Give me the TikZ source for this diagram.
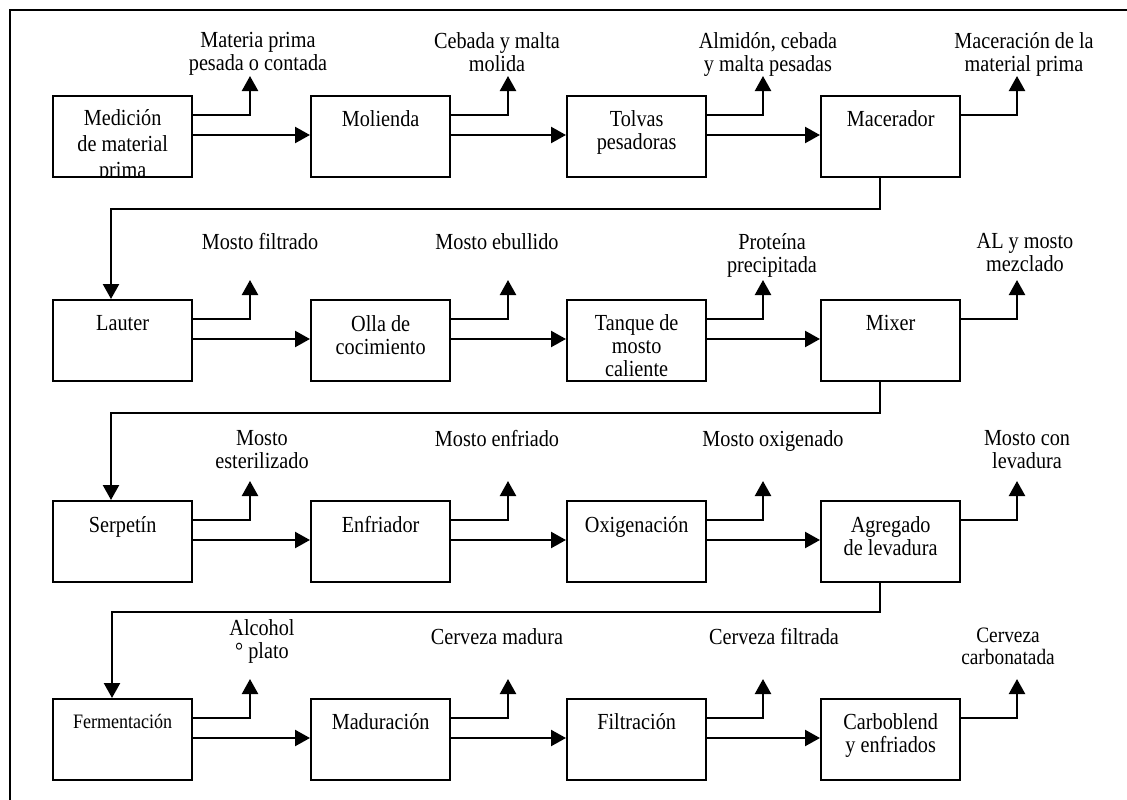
\documentclass[tikz,border=0pt]{standalone}
\usepackage{fontspec}
\setmainfont{Liberation Serif}[FakeStretch=0.88]
\usetikzlibrary{arrows.meta,calc}
\tikzset{
  box/.style={draw, line width=2.3pt, minimum width=139pt, minimum height=81pt, inner sep=0pt, anchor=north west},
  lab/.style={align=center, inner sep=0pt, anchor=north},
  con/.style={line width=2.3pt, -{Triangle[length=15pt,width=16pt]}},
  frame/.style={line width=2.8pt}
}
\begin{document}
\begin{tikzpicture}[x=1pt,y=-1pt,font=\fontsize{23}{23}\selectfont]
\useasboundingbox (0,0) rectangle (1127,800);
\draw[frame] (10,800) -- (10,10) -- (1127,10);

% boxes
\node[box] (b11) at (52,95) {};
\node[box] (b12) at (310,95) {};
\node[box] (b13) at (566,95) {};
\node[box] (b14) at (820,95) {};
\node[box] (b21) at (52,299) {};
\node[box] (b22) at (310,299) {};
\node[box] (b23) at (566,299) {};
\node[box] (b24) at (820,299) {};
\node[box] (b31) at (52,500) {};
\node[box] (b32) at (310,500) {};
\node[box] (b33) at (566,500) {};
\node[box] (b34) at (820,500) {};
\node[box] (b41) at (52,698) {};
\node[box] (b42) at (310,698) {};
\node[box] (b43) at (566,698) {};
\node[box] (b44) at (820,698) {};

% box texts
\begin{scope}
\clip ($(b11.south west)+(1,-1)$) rectangle ($(b11.north east)+(-1,1)$);
\node[lab,font=\fontsize{23}{26}\selectfont] (t11) at ($(b11.north)+(0,14)$) {Medición\\de material\\prima};
\end{scope}
\node[lab] (t12) at ($(b12.north)+(0,15)$) {Molienda};
\node[lab] (t13) at ($(b13.north)+(0,15)$) {Tolvas\\pesadoras};
\node[lab] (t14) at ($(b14.north)+(0,15)$) {Macerador};
\node[lab] (t21) at ($(b21.north)+(0,16)$) {Lauter};
\node[lab] (t22) at ($(b22.north)+(0,16)$) {Olla de\\cocimiento};
\node[lab] (t23) at ($(b23.north)+(0,15)$) {Tanque de\\mosto\\caliente};
\node[lab] (t24) at ($(b24.north)+(0,16)$) {Mixer};
\node[lab] (t31) at ($(b31.north)+(0,16)$) {Serpetín};
\node[lab] (t32) at ($(b32.north)+(0,16)$) {Enfriador};
\node[lab] (t33) at ($(b33.north)+(0,16)$) {Oxigenación};
\node[lab] (t34) at ($(b34.north)+(0,16)$) {Agregado\\de levadura};
\node[lab,font=\fontsize{20.5}{22}\selectfont] (t41) at ($(b41.north)+(0,16)$) {Fermentación};
\node[lab] (t42) at ($(b42.north)+(0,15)$) {Maduración};
\node[lab] (t43) at ($(b43.north)+(0,15)$) {Filtración};
\node[lab] (t44) at ($(b44.north)+(0,15)$) {Carboblend\\y enfriados};

% output labels
\node[lab] (l11) at (258,32) {Materia prima\\pesada o contada};
\node[lab] (l12) at (497,32) {Cebada y malta\\molida};
\node[lab] (l13) at (768,32) {Almidón, cebada\\y malta pesadas};
\node[lab] (l14) at (1024,32) {Maceración de la\\material prima};
\node[lab] (l21) at (260,233) {Mosto filtrado};
\node[lab] (l22) at (497,233) {Mosto ebullido};
\node[lab] (l23) at (772,233) {Proteína\\precipitada};
\node[lab] (l24) at (1025,233) {AL y mosto\\mezclado};
\node[lab] (l31) at (262,430) {Mosto\\esterilizado};
\node[lab] (l32) at (497,430) {Mosto enfriado};
\node[lab] (l33) at (773,430) {Mosto oxigenado};
\node[lab] (l34) at (1027,430) {Mosto con\\levadura};
\node[lab] (l41) at (262,619) {Alcohol\\° plato};
\node[lab] (l42) at (497,628) {Cerveza madura};
\node[lab] (l43) at (774,628) {Cerveza filtrada};
\node[lab,font=\fontsize{22}{22}\selectfont] (l44) at (1008,628) {Cerveza\\carbonatada};

% arrow tip coordinates for outputs
\foreach \r/\t in {1/95,2/299,3/500,4/698}{
  \foreach \c/\bx in {1/250,2/508,3/763,4/1017}{
    \coordinate (u\r\c) at (\bx,\t-19);
  }
}

% output branches
\foreach \r in {1,2,3,4}{
  \foreach \c in {1,2,3,4}{
    \draw[con] ($(b\r\c.north east)+(0,20)$) -| (u\r\c);
  }
}

% main flow arrows
\foreach \r in {1,2,3,4}{
  \draw[con] ($(b\r1.north east)+(0,40)$) -- ($(b\r2.north west)+(0,40)$);
  \draw[con] ($(b\r2.north east)+(0,40)$) -- ($(b\r3.north west)+(0,40)$);
  \draw[con] ($(b\r3.north east)+(0,40)$) -- ($(b\r4.north west)+(0,40)$);
}

% row-to-row loops
\draw[con] ($(b14.south west)+(60,0)$) -- ++(0,31) -| ($(b21.north west)+(59,0)$);
\draw[con] ($(b24.south west)+(60,0)$) -- ++(0,31) -| ($(b31.north west)+(59,0)$);
\draw[con] ($(b34.south west)+(60,0)$) -- ++(0,29) -| ($(b41.north west)+(60,0)$);
\end{tikzpicture}
\end{document}
